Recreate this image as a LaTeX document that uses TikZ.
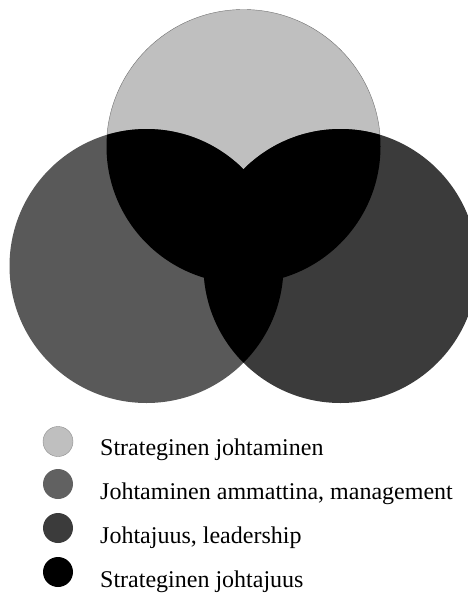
\documentclass[tikz,border=0pt]{standalone}
\usepackage{fontspec}
\setmainfont{Liberation Serif}
\begin{document}
\begin{tikzpicture}[
    x=1pt, y=-1pt,
    font=\fontsize{24}{28}\selectfont,
    bigcircle/.style={
        circle, inner sep=0pt, minimum size=274pt
    },
    dot/.style={
        circle, inner sep=0pt, minimum size=30pt
    },
    legendtext/.style={
        anchor=base west, inner sep=0pt
    }
]
\useasboundingbox (0,0) rectangle (467,597);

% 1. THE THREE CIRCLES
\node[bigcircle, fill=black!25, draw=black!55, thin] (Strat) at (243.5, 146.5) {};
\node[bigcircle, fill=black!65] (Mgmt) at (146.5, 266) {};
\node[bigcircle, fill=black!77] (Lead) at (340.5, 266) {};

% Overlaps
\begin{scope}
    \clip (Strat.center) circle (137pt);
    \fill[black] (Mgmt.center) circle (137pt);
    \fill[black] (Lead.center) circle (137pt);
\end{scope}
\begin{scope}
    \clip (Mgmt.center) circle (137pt);
    \fill[black] (Lead.center) circle (137pt);
\end{scope}

% 2. LEGEND
\node[dot, fill=black!25, draw=black!45] (D1) at (58, 441.5) {};
\node[dot, fill=black!62] (D2) at (58, 484) {};
\node[dot, fill=black!77] (D3) at (58, 528) {};
\node[dot, fill=black] (D4) at (58, 572) {};

\node[legendtext] (T1) at (100, 455) {Strateginen johtaminen};
\node[legendtext] (T2) at (100, 499) {Johtaminen ammattina, management};
\node[legendtext] (T3) at (100, 543) {Johtajuus, leadership};
\node[legendtext] (T4) at (100, 587.5) {Strateginen johtajuus};

\end{tikzpicture}
\end{document}
